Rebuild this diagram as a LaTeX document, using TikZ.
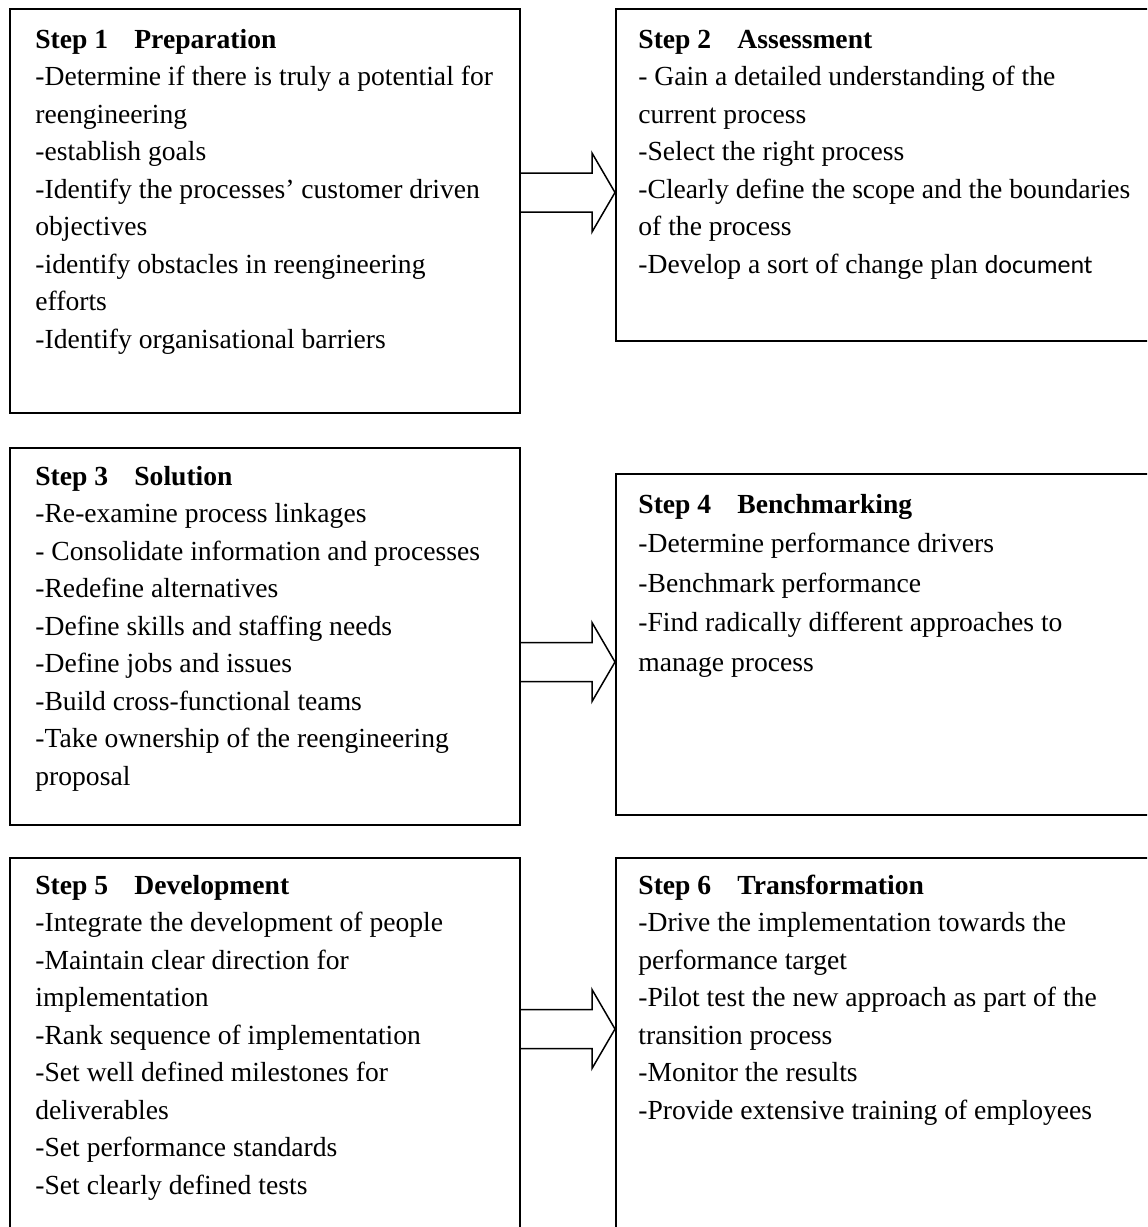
\documentclass[tikz,border=0pt]{standalone}
\usepackage{fontspec}
\setmainfont{Liberation Serif}
\newfontfamily\calibrilike{Carlito}
\usetikzlibrary{fit,calc}

\tikzset{
  stepbox/.style={draw=black, line width=1pt, inner sep=0pt},
  steptext/.style={anchor=base west, inner sep=0pt, font=\fontsize{13.8}{18.75}\selectfont},
  widetext/.style={steptext, font=\fontsize{13.8}{19.75}\selectfont},
  hollowarrow/.style={draw=black, line width=0.75pt, line join=miter},
}
% bold heading: step number, then the phase name at a fixed tab
\newcommand\steptitle[2]{\textbf{\makebox[49.5pt][l]{#1}#2}}
% open block arrow between two boxes, centred on a named coordinate
\newcommand\blockarrow[3]{%
  \path (#1.east |- #3) coordinate (#3s) (#2.west |- #3) coordinate (#3t);
  \draw[hollowarrow] ($(#3s)+(0,-19.5)$) -- ($(#3t)+(-23,-19.5)$)
    -- ($(#3t)+(-23,-39.5)$) -- (#3t) -- ($(#3t)+(-23,39.5)$)
    -- ($(#3t)+(-23,19.5)$) -- ($(#3s)+(0,19.5)$);}

\begin{document}
\begin{tikzpicture}[x=0.5pt,y=-0.5pt]
\clip (0,0) rectangle (1147,1227);
\fill[white] (0,0) rectangle (1147,1227);

% boxes
\node[stepbox, fit={(10,9) (520,413)}] (b1) {};
\node[stepbox, fit={(616,9) (1160,341)}] (b2) {};
\node[stepbox, fit={(10,448) (520,825)}] (b3) {};
\node[stepbox, fit={(616,474) (1160,815)}] (b4) {};
\node[stepbox, fit={(10,858) (520,1240)}] (b5) {};
\node[stepbox, fit={(616,858) (1160,1240)}] (b6) {};

% texts
\node[steptext] (t1) at (35,48) {\parbox[t]{300pt}{\raggedright
\steptitle{Step 1}{Preparation}\\
-Determine if there is truly a potential for\\
reengineering\\
-establish goals\\
-Identify the processes’ customer driven\\
objectives\\
-identify obstacles in reengineering\\
efforts\\
-Identify organisational barriers}};

\node[steptext] (t2) at (638,48) {\parbox[t]{300pt}{\raggedright
\steptitle{Step 2}{Assessment}\\
- Gain a detailed understanding of the\\
current process\\
-Select the right process\\
-Clearly define the scope and the boundaries\\
of the process\\
-Develop a sort of change plan {\calibrilike\fontsize{13}{18.75}\selectfont document}}};

\node[steptext] (t3) at (35,485) {\parbox[t]{300pt}{\raggedright
\steptitle{Step 3}{Solution}\\
-Re-examine process linkages\\
- Consolidate information and processes\\
-Redefine alternatives\\
-Define skills and staffing needs\\
-Define jobs and issues\\
-Build cross-functional teams\\
-Take ownership of the reengineering\\
proposal}};

\node[widetext] (t4) at (638,513) {\parbox[t]{300pt}{\raggedright
\steptitle{Step 4}{Benchmarking}\\
-Determine performance drivers\\
-Benchmark performance\\
-Find radically different approaches to\\
manage process}};

\node[steptext] (t5) at (35,894) {\parbox[t]{300pt}{\raggedright
\steptitle{Step 5}{Development}\\
-Integrate the development of people\\
-Maintain clear direction for\\
implementation\\
-Rank sequence of implementation\\
-Set well defined milestones for\\
deliverables\\
-Set performance standards\\
-Set clearly defined tests}};

\node[steptext] (t6) at (638,894) {\parbox[t]{300pt}{\raggedright
\steptitle{Step 6}{Transformation}\\
-Drive the implementation towards the\\
performance target\\
-Pilot test the new approach as part of the\\
transition process\\
-Monitor the results\\
-Provide extensive training of employees}};

% arrows
\coordinate (a1) at (0,192.5);
\coordinate (a2) at (0,662);
\coordinate (a3) at (0,1029);
\blockarrow{b1}{b2}{a1}
\blockarrow{b3}{b4}{a2}
\blockarrow{b5}{b6}{a3}
\end{tikzpicture}
\end{document}
